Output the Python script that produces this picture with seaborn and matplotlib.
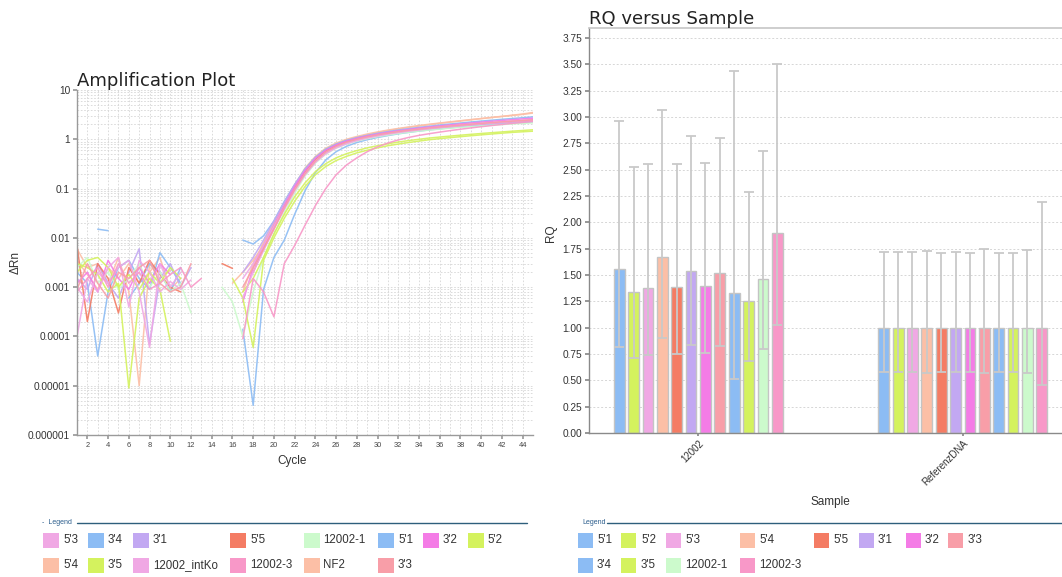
import matplotlib
matplotlib.use("Agg")
import numpy as np
import pandas as pd
import matplotlib.pyplot as plt
from matplotlib.patches import Rectangle
from matplotlib.lines import Line2D
from matplotlib.ticker import MultipleLocator, LogLocator, NullFormatter
import seaborn as sns

# ---------------------------------------------------------------- data
cycles = list(range(1, 46))

# Amplification plot: delta Rn per cycle (None = not plotted / <= 0)
drn_5p4 = [0.0060, 0.0025, 0.0030, 0.0012, 0.0040, 0.0008, 0.00001, 0.0030, 0.0015, 0.0022, None, 0.0030, None, None, None,
           0.0012, 0.0020, 0.0035, 0.0070, 0.018, 0.045, 0.11, 0.24, 0.42, 0.62, 0.80, 0.96, 1.10, 1.24, 1.37,
           1.50, 1.62, 1.74, 1.86, 1.98, 2.10, 2.22, 2.35, 2.48, 2.62, 2.76, 2.90, 3.05, 3.20, 3.40]
drn_nf2 = [0.0035, 0.0018, 0.0009, 0.0025, 0.0015, 0.0030, 0.0012, 0.0020, 0.0040, 0.0009, 0.0015, None, None, None, None,
           None, 0.0008, 0.0030, 0.0080, 0.020, 0.052, 0.12, 0.26, 0.45, 0.66, 0.84, 1.00, 1.14, 1.28, 1.41,
           1.54, 1.66, 1.78, 1.90, 2.02, 2.14, 2.26, 2.38, 2.51, 2.64, 2.78, 2.92, 3.08, 3.25, 3.50]
drn_5p1 = [0.0020, 0.0012, 0.00004, 0.0008, 0.0025, 0.0035, 0.0015, 0.0009, 0.0050, 0.0025, 0.0012, None, None, None, None,
           None, 0.0090, 0.0075, 0.0110, 0.022, 0.055, 0.12, 0.25, 0.43, 0.63, 0.80, 0.95, 1.08, 1.20, 1.32,
           1.43, 1.54, 1.64, 1.74, 1.84, 1.94, 2.04, 2.14, 2.24, 2.34, 2.44, 2.54, 2.64, 2.74, 2.85]
drn_3p4 = [None, None, 0.015, 0.014, None, 0.0006, 0.0012, 0.0030, 0.0020, 0.0008, 0.0025, None, None, None, None,
           None, 0.00014, 0.000004, 0.0009, 0.0040, 0.0090, 0.030, 0.09, 0.21, 0.38, 0.56, 0.72, 0.86, 0.98, 1.09,
           1.19, 1.29, 1.38, 1.47, 1.55, 1.63, 1.71, 1.78, 1.85, 1.92, 1.99, 2.06, 2.12, 2.18, 2.24]
drn_3p1 = [0.0015, 0.0009, 0.0030, 0.0012, 0.0006, 0.0020, 0.0060, 0.00007, 0.0015, 0.0030, 0.0010, 0.0025, None, None, None,
           None, 0.0020, 0.0040, 0.0090, 0.022, 0.052, 0.12, 0.24, 0.41, 0.59, 0.75, 0.89, 1.01, 1.12, 1.22,
           1.32, 1.41, 1.50, 1.58, 1.66, 1.74, 1.82, 1.89, 1.96, 2.03, 2.10, 2.17, 2.24, 2.30, 2.36]
drn_5p5 = [0.0070, 0.0002, 0.0030, 0.0015, 0.0003, 0.0025, 0.0012, 0.0035, 0.0018, 0.0010, 0.0008, None, None, None, 0.0030,
           0.0024, None, 0.0020, 0.0060, 0.016, 0.042, 0.10, 0.22, 0.39, 0.58, 0.75, 0.89, 1.02, 1.13, 1.23,
           1.33, 1.42, 1.51, 1.59, 1.67, 1.75, 1.83, 1.91, 1.99, 2.07, 2.15, 2.23, 2.31, 2.39, 2.47]
drn_12002_1 = [0.0025, 0.0040, 0.0012, 0.0020, 0.0009, 0.0015, 0.0030, 0.0010, 0.0020, 0.0008, 0.0012, 0.0003, None, None, 0.0010,
               0.0005, 0.0001, 0.0008, 0.0040, 0.012, 0.032, 0.080, 0.18, 0.33, 0.50, 0.66, 0.80, 0.92, 1.03, 1.13,
               1.22, 1.31, 1.39, 1.47, 1.54, 1.61, 1.68, 1.75, 1.81, 1.87, 1.93, 1.99, 2.05, 2.10, 2.15]
drn_3p2 = [0.0012, 0.0020, 0.0008, 0.0035, 0.0015, 0.0009, 0.0025, 0.0012, 0.0030, 0.0018, None, 0.0012, None, None, None,
           None, 0.0005, 0.0025, 0.0070, 0.018, 0.045, 0.11, 0.23, 0.41, 0.60, 0.77, 0.92, 1.05, 1.17, 1.28,
           1.39, 1.49, 1.59, 1.69, 1.78, 1.87, 1.96, 2.05, 2.14, 2.23, 2.32, 2.41, 2.50, 2.59, 2.68]
drn_5p2 = [0.0030, 0.0025, 0.0018, 0.0008, 0.0012, 0.000009, 0.0006, 0.0015, 0.0009, 0.00008, None, None, None, None, None,
           0.0015, 0.0006, 0.00006, 0.0035, 0.010, 0.025, 0.055, 0.11, 0.19, 0.28, 0.37, 0.45, 0.53, 0.60, 0.67,
           0.74, 0.80, 0.86, 0.92, 0.98, 1.03, 1.08, 1.13, 1.18, 1.23, 1.28, 1.33, 1.38, 1.42, 1.46]
drn_3p5 = [0.0020, 0.0035, 0.0040, 0.0025, 0.0010, 0.0018, 0.0009, 0.0020, 0.0012, 0.0025, 0.0015, None, None, None, 0.0010,
           None, 0.0008, 0.0015, 0.0040, 0.012, 0.030, 0.068, 0.13, 0.22, 0.32, 0.42, 0.51, 0.59, 0.67, 0.74,
           0.81, 0.88, 0.94, 1.00, 1.06, 1.11, 1.16, 1.21, 1.26, 1.31, 1.36, 1.41, 1.46, 1.51, 1.56]
drn_5p3 = [0.0001, 0.0015, 0.0008, 0.0025, 0.0040, 0.0004, 0.0035, 0.0020, 0.0008, 0.0013, 0.0009, 0.0014, None, None, None,
           None, 0.0006, 0.0020, 0.0055, 0.015, 0.038, 0.09, 0.19, 0.34, 0.51, 0.67, 0.81, 0.94, 1.06, 1.17,
           1.27, 1.37, 1.46, 1.55, 1.64, 1.72, 1.80, 1.88, 1.96, 2.04, 2.12, 2.20, 2.28, 2.36, 2.44]
drn_intko = [0.0010, 0.0005, 0.0020, 0.0012, 0.0025, 0.0035, 0.0008, 0.00006, 0.0030, 0.0010, 0.0020, None, None, 0.0009, None,
             None, 0.0015, 0.0030, 0.0070, 0.017, 0.040, 0.095, 0.20, 0.36, 0.54, 0.70, 0.85, 0.98, 1.10, 1.21,
             1.31, 1.41, 1.50, 1.59, 1.68, 1.77, 1.85, 1.93, 2.01, 2.09, 2.17, 2.25, 2.33, 2.41, 2.50]
drn_12002_3 = [0.0008, 0.0015, 0.0025, 0.0010, 0.0030, 0.0012, 0.0020, 0.0009, 0.0012, 0.0018, 0.0025, 0.0010, 0.0015, None, None,
               None, 0.00009, 0.0015, 0.0008, 0.00025, 0.0030, 0.0070, 0.018, 0.045, 0.10, 0.19, 0.30, 0.42, 0.56, 0.70,
               0.84, 0.97, 1.09, 1.20, 1.30, 1.40, 1.50, 1.60, 1.70, 1.80, 1.90, 2.00, 2.10, 2.20, 2.30]
drn_3p3 = [0.0009, 0.0030, 0.0012, 0.0006, 0.0020, 0.0015, 0.0025, 0.0035, 0.0012, 0.0008, 0.0010, 0.0030, None, None, None,
           None, 0.0010, 0.0025, 0.0060, 0.015, 0.040, 0.095, 0.20, 0.36, 0.55, 0.72, 0.87, 1.00, 1.12, 1.23,
           1.33, 1.43, 1.52, 1.61, 1.70, 1.78, 1.86, 1.94, 2.02, 2.10, 2.18, 2.26, 2.33, 2.40, 2.48]

amp_legend_order = ["5'3", "5'4", "3'4", "3'5", "3'1", "12002_intKo", "5'5", "12002-3",
                    "12002-1", "NF2", "5'1", "3'3", "3'2", "5'2"]
amp_ytick_vals = [1e-6, 1e-5, 1e-4, 1e-3, 1e-2, 1e-1, 1, 10]
amp_ytick_labels = ["0.000001", "0.00001", "0.0001", "0.001", "0.01", "0.1", "1", "10"]
amp_xticks = list(range(2, 45, 2))

# RQ versus Sample
samples = ["12002", "ReferenzDNA"]
targets = ["5'1", "5'2", "5'3", "5'4", "5'5", "3'1", "3'2", "3'3", "3'4", "3'5", "12002-1", "12002-3"]
rq_12002 = [1.56, 1.34, 1.38, 1.67, 1.39, 1.54, 1.40, 1.52, 1.33, 1.25, 1.46, 1.90]
rq_12002_min = [0.82, 0.71, 0.74, 0.90, 0.75, 0.84, 0.76, 0.83, 0.51, 0.68, 0.80, 1.03]
rq_12002_max = [2.96, 2.53, 2.55, 3.07, 2.55, 2.82, 2.56, 2.80, 3.44, 2.29, 2.68, 3.50]
rq_ref = [1.00, 1.00, 1.00, 1.00, 1.00, 1.00, 1.00, 1.00, 1.00, 1.00, 1.00, 1.00]
rq_ref_min = [0.58, 0.58, 0.58, 0.57, 0.58, 0.58, 0.58, 0.57, 0.58, 0.58, 0.57, 0.46]
rq_ref_max = [1.72, 1.72, 1.72, 1.73, 1.71, 1.72, 1.71, 1.75, 1.71, 1.71, 1.74, 2.19]
rq_yticks = [0.00, 0.25, 0.50, 0.75, 1.00, 1.25, 1.50, 1.75, 2.00, 2.25, 2.50, 2.75, 3.00, 3.25, 3.50, 3.75]

colors = {
    "5'1": "#8cbcf4", "5'2": "#d4f25e", "5'3": "#f0a8e4", "5'4": "#fcbfa6", "5'5": "#f47c64",
    "3'1": "#c2a8f2", "3'2": "#f47ce6", "3'3": "#f89ea8", "3'4": "#8cbcf4", "3'5": "#d4f25e",
    "12002-1": "#ccfacc", "12002-3": "#f898c8", "12002_intKo": "#f0a8e4", "NF2": "#fcbfa6",
}

amp_series = {
    "5'4": drn_5p4, "NF2": drn_nf2, "5'1": drn_5p1, "3'4": drn_3p4, "3'1": drn_3p1,
    "5'5": drn_5p5, "12002-1": drn_12002_1, "3'2": drn_3p2, "5'2": drn_5p2, "3'5": drn_3p5,
    "5'3": drn_5p3, "12002_intKo": drn_intko, "12002-3": drn_12002_3, "3'3": drn_3p3,
}

# ---------------------------------------------------------------- figure
sns.set_theme(style="white")
plt.rcParams['font.family'] = ['Liberation Sans', 'DejaVu Sans']

W, H = 1062, 577
fig = plt.figure(figsize=(W / 100, H / 100), dpi=100)
fig.patch.set_facecolor("white")

axL = fig.add_axes([77 / W, 1 - 435 / H, 456 / W, 345 / H])
axR = fig.add_axes([589 / W, 1 - 433 / H, 473 / W, 405 / H])

# ----- amplification plot (lines broken at missing values)
rows = []
for name, vals in amp_series.items():
    seg, gap = 0, True
    for c, v in zip(cycles, vals):
        if v is None:
            gap = True
            continue
        if gap:
            seg += 1
            gap = False
        rows.append((name, f"{name}#{seg}", c, v))
df_amp = pd.DataFrame(rows, columns=["Target", "Segment", "Cycle", "dRn"])

axL.set_yscale("log")
sns.lineplot(data=df_amp, x="Cycle", y="dRn", hue="Target", units="Segment",
             estimator=None, palette=colors, legend=False, linewidth=1.1,
             alpha=0.9, ax=axL)
axL.set_xlim(1, 45)
axL.set_ylim(1e-6, 10)
axL.set_yticks(amp_ytick_vals)
axL.set_yticklabels(amp_ytick_labels)
axL.yaxis.set_minor_locator(LogLocator(base=10, subs=np.arange(2, 10)))
axL.yaxis.set_minor_formatter(NullFormatter())
axL.set_xticks(amp_xticks)
axL.xaxis.set_minor_locator(MultipleLocator(1))
axL.grid(which="both", color="#d6d6d6", linestyle=(0, (2, 2)), linewidth=0.6)
axL.set_axisbelow(True)
for s in ["top", "right"]:
    axL.spines[s].set_visible(False)
for s in ["left", "bottom"]:
    axL.spines[s].set_color("#9a9a9a")
    axL.spines[s].set_linewidth(1.0)
axL.tick_params(axis="y", which="major", labelsize=7.3, length=3, color="#9a9a9a",
                pad=2, labelcolor="#333333", left=True)
axL.tick_params(axis="x", which="major", labelsize=5.4, length=3, color="#9a9a9a",
                pad=2, labelcolor="#444444", bottom=True)
axL.tick_params(which="minor", length=0)
axL.set_xlabel("Cycle", fontsize=8.5, color="#333333")
axL.set_ylabel("ΔRn", fontsize=8.5, color="#333333")
axL.xaxis.set_label_coords((292 - 77) / 456, -(455 - 435) / 345)
axL.yaxis.set_label_coords((22 - 77) / 456, (435 - 263) / 345)
axL.set_title("Amplification Plot", loc="left", fontsize=13, color="#222222",
              family="DejaVu Sans", pad=3)

# ----- RQ bar chart
df_rq = pd.DataFrame({
    "Sample": [samples[0]] * len(targets) + [samples[1]] * len(targets),
    "Target": targets + targets,
    "RQ": rq_12002 + rq_ref,
    "Min": rq_12002_min + rq_ref_min,
    "Max": rq_12002_max + rq_ref_max,
})
sns.barplot(data=df_rq, x="Sample", y="RQ", hue="Target", order=samples,
            hue_order=targets, palette=colors, width=0.652, gap=0.25,
            edgecolor="#c4c4c4", linewidth=1.0, saturation=1, errorbar=None,
            legend=False, ax=axR)
bar_conts = list(axR.containers)
for cont, tgt in zip(bar_conts, targets):
    for bar in cont:
        xc = bar.get_x() + bar.get_width() / 2
        smp = samples[int(round(xc))]
        r = df_rq[(df_rq.Sample == smp) & (df_rq.Target == tgt)].iloc[0]
        axR.errorbar([xc], [r.RQ], yerr=[[r.RQ - r.Min], [r.Max - r.RQ]], fmt="none",
                     ecolor="#c9c9c9", elinewidth=1.3, capsize=3.8, capthick=1.3, zorder=3)

axR.set_xlim(-0.413, 1.375)
axR.set_ylim(0, 3.846)
axR.set_yticks(rq_yticks)
axR.set_yticklabels([f"{v:.2f}" for v in rq_yticks])
axR.yaxis.grid(True, color="#d6d6d6", linestyle=(0, (2, 2)), linewidth=0.7)
axR.set_axisbelow(True)
axR.spines["right"].set_visible(False)
axR.spines["top"].set_color("#c8c8c8")
for s in ["left", "bottom"]:
    axR.spines[s].set_color("#8a8a8a")
    axR.spines[s].set_linewidth(1.0)
axR.tick_params(axis="y", labelsize=7.3, length=3, color="#8a8a8a", pad=2,
                labelcolor="#333333", left=True)
axR.tick_params(axis="x", labelsize=7, length=2, color="#8a8a8a", pad=2,
                labelcolor="#333333", bottom=True)
for lab in axR.get_xticklabels():
    lab.set_rotation(45)
    lab.set_ha("right")
    lab.set_va("top")
    lab.set_rotation_mode("anchor")
axR.set_xlabel("Sample", fontsize=8.5, color="#333333")
axR.set_ylabel("RQ", fontsize=8.5, color="#333333")
axR.xaxis.set_label_coords((830 - 589) / 473, -(496 - 433) / 405)
axR.yaxis.set_label_coords((557 - 589) / 473, (433 - 233) / 405)
axR.set_title("RQ versus Sample", loc="left", fontsize=13, color="#222222",
              family="DejaVu Sans", pad=3)


# ----- legends (drawn in figure pixel coordinates)
def fx(x):
    return x / W


def fy(y):
    return 1 - y / H


def draw_legend(header_x, header_text, line_x0, line_x1, entries, sw=15):
    fig.text(fx(header_x), fy(523), header_text, fontsize=5, color="#2b5d8c",
             ha="left", va="center")
    fig.add_artist(Line2D([fx(line_x0), fx(line_x1)], [fy(523), fy(523)],
                          color="#2e5f7c", linewidth=1.0, transform=fig.transFigure))
    for name, sx, tx, row in entries:
        yc = 540 if row == 0 else 565
        fig.add_artist(Rectangle((fx(sx), fy(yc + 7.5)), sw / W, 15 / H,
                                 facecolor=colors[name], edgecolor="none",
                                 transform=fig.transFigure))
        fig.text(fx(tx), fy(yc), name, fontsize=8.3, color="#333333",
                 ha="left", va="center")


left_pos = [(43, 63), (88, 108), (133, 153), (230, 250), (304, 323), (378, 398), (423, 443), (468, 487)]
left_entries = []
for i, name in enumerate(amp_legend_order):
    col, row = divmod(i, 2) if i < 12 else (6 + (i - 12), 0)
    sx, tx = left_pos[col]
    left_entries.append((name, sx, tx, row))
draw_legend(42, "-  Legend", 77, 527, left_entries, sw=16)

right_pos = [(578, 597), (621, 641), (666, 685), (740, 759), (814, 833), (859, 878), (906, 925), (948, 968)]
right_entries = []
for i, name in enumerate(targets):
    row, col = divmod(i, 8)
    sx, tx = right_pos[col]
    right_entries.append((name, sx, tx, row))
draw_legend(582, "Legend", 607, 1062, right_entries)

fig.savefig("out.png", dpi=100, facecolor="white")
